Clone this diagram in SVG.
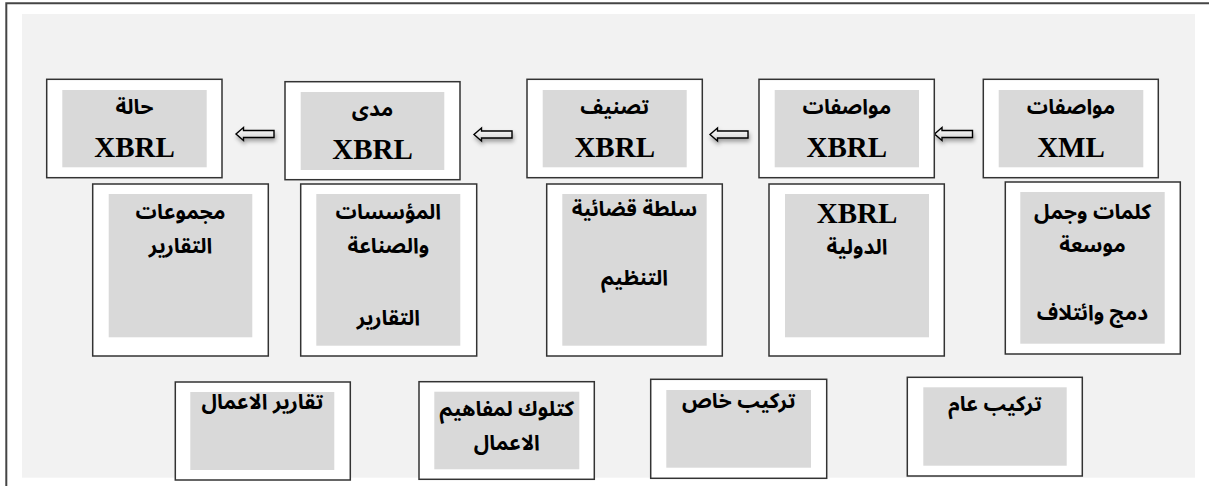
<svg xmlns="http://www.w3.org/2000/svg" width="1209" height="486" viewBox="0 0 1209 486">
<style>
.frame{fill:none;stroke:#454545;stroke-width:2}
.bg{fill:#f2f2f2}
.outer{fill:#ffffff;stroke:#333333;stroke-width:1.5}
.inner{fill:#d9d9d9}
.ar{font-family:"Noto Sans Arabic","Noto Naskh Arabic","DejaVu Sans",sans-serif;font-weight:bold;font-size:21px;fill:#000;text-anchor:middle}
.en{font-family:"Liberation Serif","Times New Roman",serif;font-weight:bold;font-size:29px;fill:#000;text-anchor:middle}
.arrow{fill:url(#ag);stroke:#000;stroke-width:1.4;stroke-linejoin:miter;filter:url(#sh)}
</style>
<defs>
<linearGradient id="ag" x1="0" y1="0" x2="0" y2="1">
<stop offset="0" stop-color="#ffffff"/>
<stop offset="1" stop-color="#d0d0d0"/>
</linearGradient>
<filter id="sh" x="-30%" y="-80%" width="160%" height="260%">
<feDropShadow dx="1" dy="3" stdDeviation="2" flood-color="#000" flood-opacity="0.35"/>
</filter>
<path id="arr" d="M0,0 L7.5,-6.5 L7.5,-3.5 L38,-3.5 L38,3.5 L7.5,3.5 L7.5,6.5 Z"/>
</defs>
<rect class="bg" x="22" y="14" width="1173" height="463.7"/>
<path class="frame" d="M6.3,486 L6.3,3.3 L1209,3.3"/>

<g id="connectors">
<use href="#arr" class="arrow" x="236" y="134"/>
<use href="#arr" class="arrow" x="474" y="134.5"/>
<use href="#arr" class="arrow" x="710" y="134.5"/>
<use href="#arr" class="arrow" x="934.5" y="134"/>
</g>

<g id="n-halat">
<rect class="outer" x="46.7" y="79.3" width="175.3" height="98.4"/>
<rect class="inner" x="62.3" y="90" width="144.4" height="77.3"/>
<text class="ar" x="134.5" y="114">حالة</text>
<text class="en" x="134.5" y="156.5">XBRL</text>
</g>
<g id="n-mada">
<rect class="outer" x="285" y="81.7" width="175" height="98"/>
<rect class="inner" x="300.7" y="92" width="143.6" height="78"/>
<text class="ar" x="372.5" y="116">مدى</text>
<text class="en" x="372.5" y="158.5">XBRL</text>
</g>
<g id="n-tasnif">
<rect class="outer" x="527" y="79.3" width="175.3" height="98.4"/>
<rect class="inner" x="542.7" y="90" width="144" height="77.3"/>
<text class="ar" x="614.7" y="114">تصنيف</text>
<text class="en" x="614.7" y="156.5">XBRL</text>
</g>
<g id="n-muwasafat-xbrl">
<rect class="outer" x="759" y="79.3" width="175.3" height="98.4"/>
<rect class="inner" x="774.7" y="90" width="144.3" height="77.3"/>
<text class="ar" x="846.8" y="114">مواصفات</text>
<text class="en" x="846.8" y="156.5">XBRL</text>
</g>
<g id="n-muwasafat-xml">
<rect class="outer" x="983.3" y="79.3" width="175" height="98.4"/>
<rect class="inner" x="998.7" y="90" width="144.6" height="77.3"/>
<text class="ar" x="1071" y="114">مواصفات</text>
<text class="en" x="1071" y="156.5">XML</text>
</g>

<g id="n-majmuat">
<rect class="outer" x="92.7" y="184" width="175.6" height="172"/>
<rect class="inner" x="108.7" y="194" width="143.6" height="143.3"/>
<text class="ar" x="180.5" y="219">مجموعات</text>
<text class="ar" x="180.5" y="253">التقارير</text>
</g>
<g id="n-muassasat">
<rect class="outer" x="300.7" y="184" width="176" height="172"/>
<rect class="inner" x="316.3" y="194" width="144" height="151.7"/>
<text class="ar" x="388.3" y="219">المؤسسات</text>
<text class="ar" x="388.3" y="253">والصناعة</text>
<text class="ar" x="388.3" y="325">التقارير</text>
</g>
<g id="n-sulta">
<rect class="outer" x="546.7" y="184" width="175.6" height="172"/>
<rect class="inner" x="562.3" y="194" width="144.4" height="151.7"/>
<text class="ar" x="634.5" y="216">سلطة قضائية</text>
<text class="ar" x="634.5" y="285">التنظيم</text>
</g>
<g id="n-dawliya">
<rect class="outer" x="769" y="184" width="175.3" height="172"/>
<rect class="inner" x="785" y="194" width="144" height="143.3"/>
<text class="en" x="857" y="223">XBRL</text>
<text class="ar" x="857" y="254">الدولية</text>
</g>
<g id="n-kalimat">
<rect class="outer" x="1005.3" y="182" width="175" height="172"/>
<rect class="inner" x="1020.3" y="192" width="144.4" height="151.7"/>
<text class="ar" x="1092.5" y="219">كلمات وجمل</text>
<text class="ar" x="1092.5" y="252">موسعة</text>
<text class="ar" x="1092.5" y="320">دمج وائتلاف</text>
</g>

<g id="n-taqarir-aamal">
<rect class="outer" x="175.3" y="382" width="175" height="98"/>
<rect class="inner" x="190.3" y="392" width="144" height="78"/>
<text class="ar" x="262.3" y="409">تقارير الاعمال</text>
</g>
<g id="n-katalog">
<rect class="outer" x="419" y="381.7" width="175.3" height="97.6"/>
<rect class="inner" x="434.3" y="391.7" width="145" height="77.6"/>
<text class="ar" x="506.8" y="416">كتلوك لمفاهيم</text>
<text class="ar" x="506.8" y="450">الاعمال</text>
</g>
<g id="n-tarkib-khas">
<rect class="outer" x="650.7" y="379.3" width="176" height="99"/>
<rect class="inner" x="666.3" y="390" width="144.7" height="77.7"/>
<text class="ar" x="738.7" y="408">تركيب خاص</text>
</g>
<g id="n-tarkib-aam">
<rect class="outer" x="907.3" y="377.3" width="175" height="98.7"/>
<rect class="inner" x="923.3" y="387.3" width="143.4" height="78.4"/>
<text class="ar" x="995" y="411">تركيب عام</text>
</g>
</svg>
